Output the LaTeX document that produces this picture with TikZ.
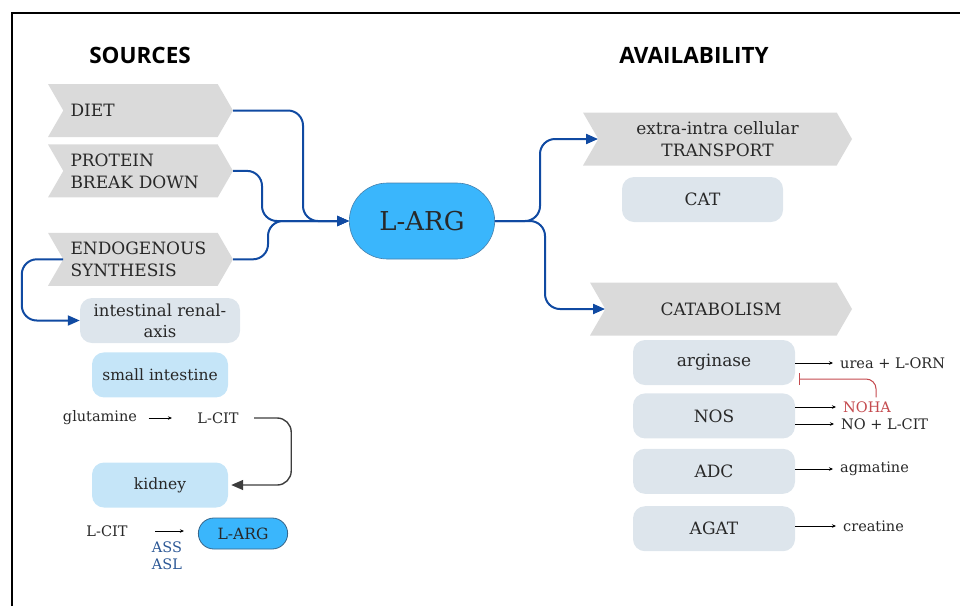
\documentclass[tikz,border=0pt]{standalone}
\usepackage{fontspec}
\setmainfont{DejaVu Serif}
\newfontfamily\headfont{Open Sans}
\usepackage{xcolor}
\usepackage{tikz}
\usetikzlibrary{positioning}
\usetikzlibrary{arrows.meta}
\usetikzlibrary{shapes.symbols}
\usetikzlibrary{shapes.misc}

\definecolor{chevgray}{RGB}{218,218,218}
\definecolor{boxgray}{RGB}{221,229,236}
\definecolor{boxblue}{RGB}{197,229,248}
\definecolor{argblue}{RGB}{58,182,252}
\definecolor{argedge}{RGB}{70,128,172}
\definecolor{linkblue}{RGB}{16,74,162}
\definecolor{inktext}{RGB}{40,40,40}
\definecolor{enzblue}{RGB}{44,88,150}
\definecolor{nohared}{RGB}{196,74,78}

\begin{document}
\begin{tikzpicture}[x=1pt, y=-1pt, text=inktext]

        \useasboundingbox (0,0) rectangle (960,606);

        % Shapes used over and over again
        \tikzset{
            heading/.style={font=\headfont\bfseries\fontsize{22.5}{26}\selectfont,
                text=black},
            chev/.style={signal, signal from=west, signal to=east,
                signal pointer angle=120, fill=chevgray,
                minimum height=53pt, inner xsep=4pt, inner ysep=2pt,
                font=\fontsize{17}{22}\selectfont},
            srcchev/.style={chev, minimum width=185pt, text width=140pt,
                align=left},
            box/.style={rectangle, rounded corners=12pt, fill=boxgray,
                minimum width=162pt, minimum height=45pt,
                font=\fontsize{17}{21}\selectfont},
            kbox/.style={box, fill=boxblue, minimum width=136pt,
                font=\fontsize{15.5}{20}\selectfont},
            bigarg/.style={rounded rectangle, fill=argblue, draw=argedge,
                line width=0.6pt, minimum width=152pt, minimum height=76pt,
                font=\fontsize{26}{30}\selectfont},
            smallarg/.style={rounded rectangle, fill=argblue, draw=argedge!80!black,
                line width=0.8pt, minimum width=96pt, minimum height=31pt,
                font=\fontsize{15.5}{18}\selectfont},
            chem/.style={font=\fontsize{14.5}{17}\selectfont},
            prod/.style={chem, anchor=west, inner sep=2pt},
            link/.style={draw=linkblue, line width=2pt, rounded corners=15pt,
                -{Triangle[length=12pt,width=10pt]}},
            thin/.style={line width=0.8pt, -{Stealth[length=4pt,width=3.5pt]}},
        }

        % Frame
        \draw[line width=2pt] (12,606) -- (12,12.8) -- (960,12.8);

        % Left column
        \node[heading] (src) at (140,55) {SOURCES};
        \node[srcchev] (diet) at (140.5,110.5) {DIET};
        \node[srcchev, below=7pt of diet] (prot) {PROTEIN\\BREAK DOWN};
        \node[srcchev, below=35pt of prot] (endo) {ENDOGENOUS\\SYNTHESIS};

        \node[box, minimum width=160pt, align=center,
            font=\fontsize{16.5}{21}\selectfont] (inter) at (160,320.5)
            {intestinal renal-\\axis};
        \node[kbox, below=9pt of inter] (smint) {small intestine};
        \node[chem] (glut) at (100,418) {glutamine};
        \node[chem] (lcit) at (218,418) {L-CIT};
        \node[kbox] (kidney) at (160,485) {kidney};
        \node[chem] (lcitb) at (107,531) {L-CIT};
        \node[smallarg] (slarg) at (243,533.5) {L-ARG};
        \node[chem, text=enzblue, align=center] (enz) at (167,556) {ASS\\ASL};

        % Centre
        \node[bigarg] (larg) at (422,221) {L-ARG};

        % Right column
        \node[heading] (avail) at (694,55) {AVAILABILITY};
        \node[chev, minimum width=269pt, align=center] (trans) at (717.5,139)
            {extra-intra cellular\\TRANSPORT};
        \node[box, minimum width=161pt] (cat) at (702.5,199.5) {CAT};
        \node[chev, minimum width=262pt] (cata) at (721,309) {CATABOLISM};

        \node[box] (argi) at (714,362.5) {arginase};
        \node[box, below=8pt of argi] (nos) {NOS};
        \node[box, below=10pt of nos] (adc) {ADC};
        \node[box, below=12pt of adc] (agat) {AGAT};

        \node[prod] (urea) at (838,363) {urea + L-ORN};
        \node[prod, text=nohared] (noha) at (841,407) {NOHA};
        \node[prod] (nocit) at (839,424) {NO + L-CIT};
        \node[prod] (agm) at (838,469) {agmatine};
        \node[prod] (crea) at (841,526) {creatine};

        \coordinate (dietbend) at (303,110);
        \coordinate (protbend) at (262,170);
        \coordinate (endobend) at (268,259);
        \coordinate (upbend) at (540,221);
        \coordinate (downbend) at (545,221);
        \coordinate (inhib) at ([xshift=4pt,yshift=-16.5pt]argi.east);

        % Blue connectors
        \begin{scope}[link]
            \draw (diet.east) -| (dietbend |- larg.west) -- (larg.west);
            \draw (prot.east) -| (protbend |- larg.west) -- (larg.west);
            \draw (endo.east) -| (endobend |- larg.west) -- (larg.west);
            \draw (endo.west) -| ([xshift=-58pt]inter.west) -- (inter.west);
            \draw (larg.east) -| (upbend |- trans.west) -- (trans.west);
            \draw (larg.east) -| (downbend |- cata.west) -- (cata.west);
        \end{scope}

        % Small reaction arrows
        \begin{scope}[thin]
            \draw[shorten <=8pt, shorten >=22pt] (glut.east) -- (lcit.west);
            \draw[shorten <=24pt, shorten >=14pt] (lcitb.east) -- (lcitb.east -| slarg.west);
        \end{scope}
        \begin{scope}[thin, shorten >=5pt]
            \draw (argi.east |- urea.west) -- (urea.west);
            \draw (nos.east |- noha.west) -- (noha.west);
            \draw (nos.east |- nocit.west) -- (nocit.west);
            \draw (adc.east |- agm.west) -- (agm.west);
            \draw (agat.east |- crea.west) -- (crea.west);
        \end{scope}

        \draw[draw=inktext!90, line width=1.4pt, rounded corners=14pt,
            shorten <=12pt, shorten >=3pt,
            -{Triangle[length=12pt,width=10pt]}]
            (lcit.east) -| ([xshift=63pt]kidney.east) -- (kidney.east);

        \draw[nohared, line width=1pt, rounded corners=10pt,
            -{Bar[width=12pt]}]
            ([xshift=9pt,yshift=2pt]noha.north) |- (inhib);

\end{tikzpicture}
\end{document}
